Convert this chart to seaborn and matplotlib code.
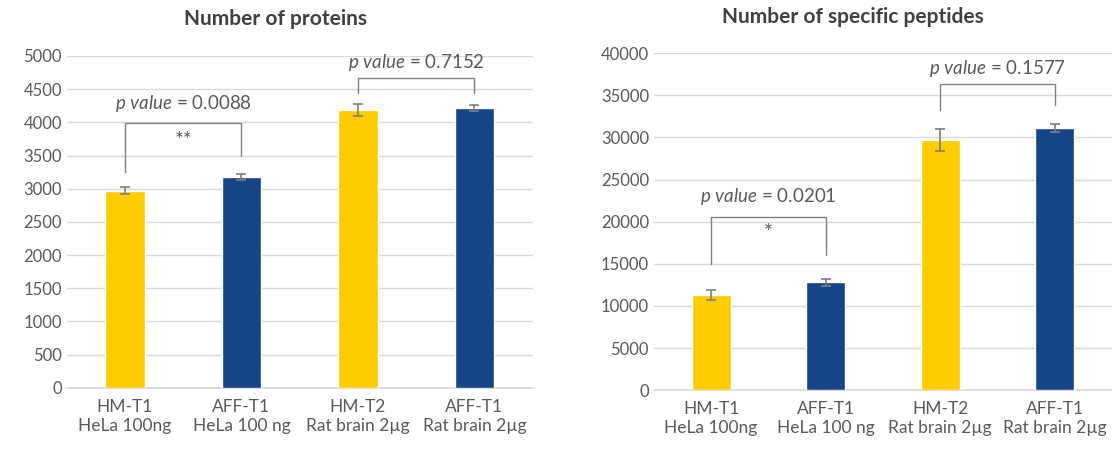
import matplotlib
matplotlib.use("Agg")
import matplotlib.pyplot as plt
import seaborn as sns
import pandas as pd

categories = ["HM-T1\nHeLa 100ng", "AFF-T1\nHeLa 100 ng", "HM-T2\nRat brain 2µg", "AFF-T1\nRat brain 2µg"]
proteins = [2970, 3170, 4190, 4215]
proteins_err = [50, 45, 90, 45]
peptides = [11300, 12800, 29700, 31100]
peptides_err = [600, 400, 1300, 500]
bar_colors = ["#FFCC00", "#154487", "#FFCC00", "#154487"]

sns.set_theme(style="white")
plt.rcParams['font.family'] = ['Lato', 'DejaVu Sans']
plt.rcParams['mathtext.fontset'] = 'custom'
plt.rcParams['mathtext.it'] = 'Lato:italic'
plt.rcParams['mathtext.rm'] = 'Lato'

TXT = "#595959"
GRID = "#D9D9D9"

fig = plt.figure(figsize=(11.12, 4.51), dpi=100)
axL = fig.add_axes([0.060, 0.140, 0.419, 0.736])
axR = fig.add_axes([0.588, 0.135, 0.412, 0.747])


def draw(ax, vals, errs, ymax, step):
    df = pd.DataFrame({"cat": categories, "val": vals})
    sns.barplot(data=df, x="cat", y="val", hue="cat", palette=bar_colors,
                width=0.34, legend=False, ax=ax, saturation=1, zorder=3)
    ax.errorbar(range(len(vals)), vals, yerr=errs, fmt="none", ecolor="#7F7F7F",
                elinewidth=1.2, capsize=3.5, capthick=1.2, zorder=4)
    ax.set_ylim(0, ymax)
    ax.set_xlim(-0.5, 3.5)
    ax.set_yticks(range(0, ymax + 1, step))
    ax.yaxis.grid(True, color=GRID, linewidth=1.0, zorder=0)
    ax.set_axisbelow(True)
    for s in ["top", "right", "left"]:
        ax.spines[s].set_visible(False)
    ax.spines["bottom"].set_color(GRID)
    ax.set_xlabel("")
    ax.set_ylabel("")
    ax.tick_params(axis="y", length=0, labelsize=12, colors=TXT)
    ax.tick_params(axis="x", length=0, labelsize=12.5, colors=TXT, pad=8)


def bracket(ax, x1, x2, ytop, yl, yr, label, lab_y, star=None, star_y=None):
    ax.plot([x1, x1, x2, x2], [yl, ytop, ytop, yr], color="#7F7F7F", lw=1.0, zorder=5)
    xm = (x1 + x2) / 2
    ax.text(xm, lab_y, r"$\it{p\ value}$" + " = " + label, ha="center", va="center",
            fontsize=13.5, color=TXT)
    if star:
        ax.text(xm, star_y, star, ha="center", va="center", fontsize=15, color=TXT)


draw(axL, proteins, proteins_err, 5000, 500)
draw(axR, peptides, peptides_err, 40000, 5000)

bracket(axL, 0, 1, 3990, 3250, 3500, "0.0088", 4290, "**", 3720)
bracket(axL, 2, 3, 4670, 4440, 4440, "0.7152", 4900)
bracket(axR, 0, 1, 20600, 15000, 16100, "0.0201", 23000, "*", 18600)
bracket(axR, 2, 3, 36300, 33300, 33900, "0.1577", 38200)

fig.text(276 / 1112, 1 - 19 / 451, "Number of proteins", ha="center", va="center",
         fontsize=15, fontweight="bold", color="#404040")
fig.text(853 / 1112, 1 - 17 / 451, "Number of specific peptides", ha="center", va="center",
         fontsize=15, fontweight="bold", color="#404040")

fig.savefig("out.png", dpi=100)
